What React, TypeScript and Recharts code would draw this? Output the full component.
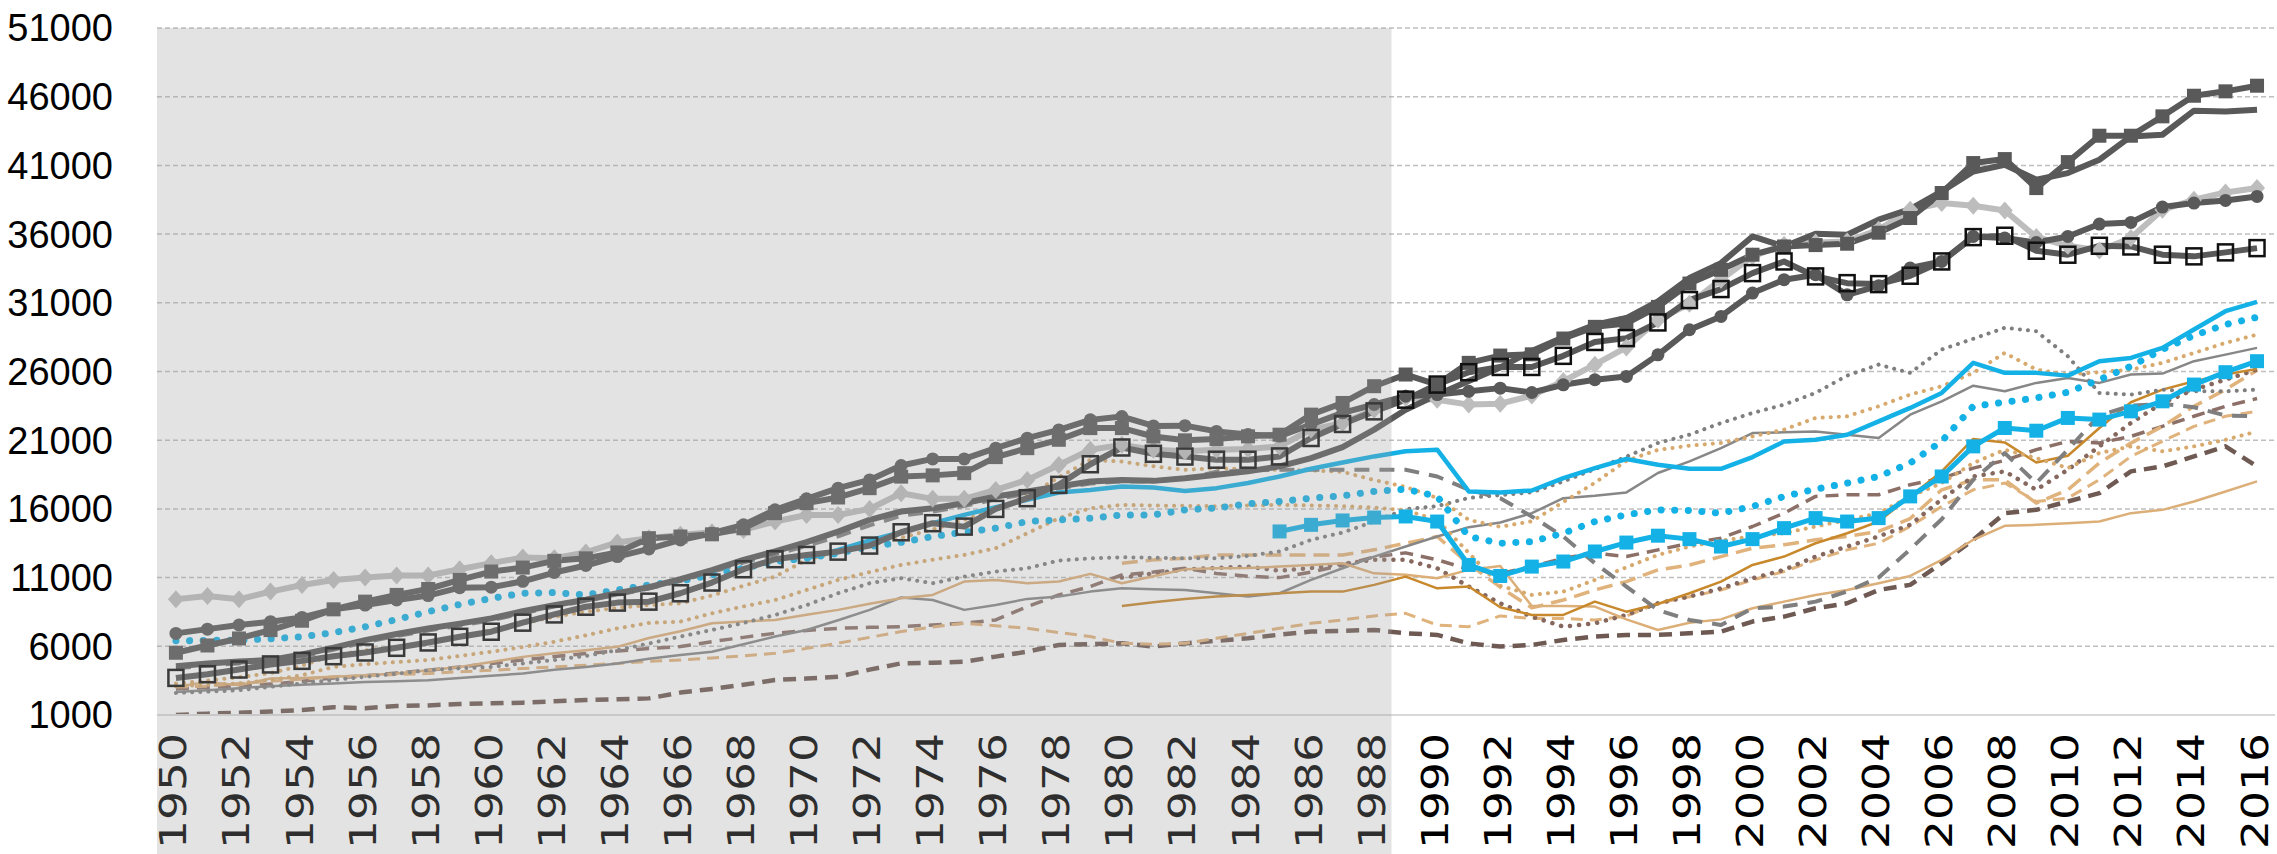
import React from 'react';
import { LineChart, Line, XAxis, YAxis, CartesianGrid, ReferenceArea } from 'recharts';

// years on the x axis
const years = Array.from({ length: 67 }, (_, i) => 1950 + i);
const yearTicks = years.filter((y) => y % 2 === 0);
const valueTicks = [1000, 6000, 11000, 16000, 21000, 26000, 31000, 36000, 41000, 46000, 51000];

// shaded period (left part of the chart)
const shadeFrom = 1949.4;
const shadeTo = 1988.55;

// series, one value per year from their first year
const sqFilled = [
  5530, 6060, 6570, 7180, 7860, 8690, 9250, 9740, 10170, 10830,
  11440, 11730, 12220, 12400, 12830, 13870, 13990, 14150, 14590, 15690,
  16420, 16830, 17510, 18350, 18440, 18600, 19770, 20420, 21030, 21880,
  21880, 21270, 20990, 21090, 21280, 21400, 22860, 23710, 24930, 25780,
  25050, 26630, 27160, 27250, 28400, 29250, 29500, 30700, 32400, 33400,
  34500, 35100, 35200, 35300, 36100, 37170, 38990, 41170, 41460, 39350,
  41240, 43160, 43160, 44570, 46070, 46390, 46800,
];
const darkPlain = [
  4550, 4750, 4900, 5000, 5400, 5900, 6450, 6900, 7300, 7650,
  8030, 8550, 9000, 9400, 9860, 10300, 10880, 11550, 12290, 12900,
  13580, 14350, 15200, 15810, 16050, 16410, 16900, 17260, 17630, 17990,
  18110, 18040, 18230, 18490, 18730, 19100, 19700, 20500, 21770, 23220,
  24300, 25300, 26300, 27500, 28500, 29400, 29890, 31100, 32800, 33890,
  35830, 35100, 36030, 35950, 37050, 37820, 39110, 40560, 41050, 39960,
  40440, 41410, 43110, 43230, 44980, 44930, 45050,
];
const lightDiamond = [
  9420, 9660, 9420, 9980, 10460, 10830, 11000, 11150, 11150, 11610,
  12050, 12460, 12410, 12830, 13560, 13870, 14110, 14300, 14470, 15080,
  15560, 15560, 16000, 17140, 16730, 16730, 17380, 18110, 19200, 20300,
  20660, 20300, 20190, 20310, 20360, 20550, 21770, 22250, 23220, 24070,
  23950, 23590, 23660, 24250, 25300, 26500, 27750, 29760, 30930, 32680,
  34380, 35220, 35390, 35470, 36320, 37770, 38260, 38060, 37720, 35780,
  35150, 34810, 35710, 37770, 38500, 39030, 39350,
];
const darkCircle = [
  6940, 7250, 7550, 7790, 8100, 8690, 9000, 9370, 9690, 10270,
  10300, 10730, 11370, 11880, 12530, 13090, 13740, 14230, 14840, 15930,
  16730, 17510, 18110, 19160, 19640, 19640, 20420, 21150, 21750, 22480,
  22720, 22040, 22060, 21640, 21410, 21300, 22140, 22990, 23600, 24200,
  24320, 24560, 24790, 24470, 25030, 25400, 25640, 27210, 29040, 30010,
  31710, 32680, 33040, 31580, 32240, 33530, 34010, 35830, 35710, 35390,
  35830, 36730, 36850, 37970, 38260, 38450, 38740,
];
const openSquare = [
  3700, 3970, 4310, 4680, 4940, 5280, 5550, 5890, 6280, 6690,
  7060, 7720, 8320, 8880, 9180, 9250, 9860, 10640, 11610, 12340,
  12650, 12890, 13330, 14300, 14960, 14710, 16000, 16780, 17750, 19250,
  20470, 20010, 19810, 19580, 19580, 19820, 21160, 22180, 23100, 23950,
  25050, 25950, 26330, 26330, 27140, 28150, 28430, 29570, 31200, 32000,
  33160, 34010, 32920, 32430, 32360, 32970, 34010, 35780, 35880, 34790,
  34500, 35150, 35100, 34500, 34380, 34670, 34980,
];
// from 1970
const blueSolid = [
  12410, 13010, 13700, 14300, 14960, 15560, 16120, 16660, 17190, 17380,
  17630, 17550, 17310, 17510, 17880, 18360, 18920, 19380, 19820, 20190,
  20310, 17270, 17200, 17340, 18240, 18970, 19630, 19210, 18920, 18920,
  19770, 20910, 21030, 21400, 22370, 23350, 24440, 26630, 25900, 25900,
  25700, 26750, 26990, 27720, 29060, 30390, 31070,
];
const blueDotted = [
  6400, 6430, 6450, 6550, 6690, 7000, 7420, 7950, 8520, 9050,
  9490, 9860, 9910, 9740, 10100, 10460, 10750, 11200, 11680, 12170,
  12410, 12770, 13260, 13570, 13990, 14300, 14590, 15080, 15200, 15320,
  15560, 15560, 15930, 16060, 16370, 16540, 16780, 16950, 17270, 17440,
  16910, 13990, 13500, 13620, 14230, 15080, 15570, 15930, 15890, 15690,
  16180, 16910, 17440, 17880, 18360, 19340, 20920, 23470, 23760, 24080,
  24490, 25410, 26380, 27600, 28620, 29420, 29950,
];
// from 1985
const blueSquare = [
  14360, 14840, 15160, 15370, 15450,
  15080, 11920, 11120, 11800, 12170, 12900, 13550, 14050, 13800, 13260,
  13800, 14600, 15330, 15080, 15330, 16910, 18360, 20550, 21890, 21690,
  22620, 22500, 23100, 23830, 25050, 25950, 26750,
];
const grayDotted = [
  2610, 2700, 2800, 3050, 3300, 3550, 3780, 4000, 4260, 4400,
  4500, 4750, 5000, 5300, 5720, 6200, 6710, 7190, 7700, 8280,
  9000, 9860, 10590, 10950, 10590, 11070, 11440, 11680, 12240, 12400,
  12480, 12450, 12410, 12410, 12580, 12900, 13750, 14280, 15080, 15980,
  16200, 16800, 17000, 17200, 18000, 18900, 19800, 20800, 21400, 22250,
  22980, 23590, 24440, 25700, 26500, 25900, 27600, 28380, 29180, 28930,
  27110, 24440, 24320, 24680, 24560, 24560, 24680,
];
const tanDottedHigh = [
  3300, 3500, 3750, 4050, 4600, 5350, 5700, 5950, 6200, 6700,
  7180, 7650, 8150, 8520, 8800, 9000, 9130, 9700, 10400, 11070,
  12290, 12900, 13380, 13900, 14500, 15200, 16000, 16900, 18300, 19570,
  19450, 19100, 18840, 18970, 18900, 18850, 18800, 18700, 18100, 17600,
  16800, 15200, 14700, 15100, 16500, 17900, 19500, 20300, 20600, 20800,
  21280, 21770, 22620, 22740, 23470, 24320, 24930, 25900, 27350, 26140,
  25780, 25950, 26140, 26630, 27350, 28080, 28690,
];
const tanDottedLow = [
  3100, 3200, 3300, 3550, 3900, 4500, 4700, 4850, 5000, 5300,
  5600, 5950, 6330, 6800, 7300, 7700, 7800, 8400, 8900, 9370,
  10100, 10830, 11400, 11920, 12300, 12650, 13140, 14230, 15320, 16050,
  16290, 16250, 16220, 16200, 16250, 16300, 16250, 16200, 16100, 15900,
  15200, 12800, 10400, 9740, 9980, 10830, 11750, 12650, 13260, 13700,
  13990, 14230, 14720, 15200, 15690, 16910, 17880, 19340, 20310, 19700,
  18970, 20070, 20550, 20190, 20550, 21030, 21640,
];
const tanDashed = [
  3040, 3100, 3290, 3450, 3600, 3780, 3850, 3950, 4020, 4150,
  4250, 4380, 4500, 4630, 4750, 4900, 5000, 5150, 5300, 5490,
  5850, 6220, 6650, 7070, 7400, 7680, 7500, 7310, 7000, 6710,
  6220, 6150, 6220, 6580, 6940, 7310, 7670, 7920, 8210, 8400,
  7550, 7430, 8210, 8030, 8030, 7910, 8200, 9130, 9610, 10100,
  10830, 11440, 12290, 13020, 13500, 14720, 16180, 17390, 17880, 16540,
  16790, 18120, 19820, 20920, 22010, 22740, 23100,
];
// from 1980
const tanDashed2 = [
  12040, 12290, 12410, 12650, 12650, 12650, 12650, 12650, 13020, 13500,
  13990, 12000, 10300, 8800, 9370, 10100, 10710, 11560, 11920, 12530,
  13140, 13390, 13750, 13990, 14360, 15300, 17390, 18120, 18120, 16420,
  17390, 19340, 20790, 22010, 23470, 24680, 26090,
];
const brownDashedDark = [
  1000, 1100, 1170, 1250, 1360, 1560, 1500, 1650, 1700, 1800,
  1850, 1900, 2000, 2090, 2150, 2210, 2630, 2900, 3200, 3550,
  3650, 3790, 4300, 4760, 4800, 4880, 5250, 5610, 6100, 6150,
  6220, 5980, 6210, 6400, 6580, 6850, 7070, 7130, 7190, 6950,
  6830, 6210, 5980, 6100, 6460, 6710, 6830, 6830, 6950, 7070,
  7800, 8160, 8770, 9130, 10100, 10470, 12050, 13750, 15690, 15930,
  16540, 17150, 18730, 19090, 19820, 20550, 19090,
];
const brownDashed = [
  2900, 3000, 3100, 3250, 3450, 3700, 3850, 4050, 4260, 4500,
  4750, 5000, 5250, 5480, 5650, 5840, 5980, 6340, 6650, 6950,
  7150, 7310, 7380, 7430, 7550, 7680, 7920, 8890, 9740, 10350,
  11190, 11400, 11680, 11300, 11100, 11000, 11400, 11900, 12500, 12800,
  12300, 11600, 11300, 11800, 12410, 12780, 12530, 13020, 13500, 13870,
  14720, 15690, 16910, 17030, 17030, 17760, 18240, 18970, 19530, 20310,
  20920, 20800, 21280, 22010, 22740, 23470, 24030,
];
// from 1980
const brownDotted = [
  11000, 11300, 11600, 11700, 11800, 11500, 11700, 12000, 12300, 12290,
  11680, 10350, 9130, 8160, 7430, 7670, 8280, 9130, 9620, 10220,
  10950, 11560, 12530, 13260, 14000, 14840, 16700, 18360, 18730, 17390,
  18850, 20550, 22250, 23710, 24680, 25410, 26140,
];
const graySolid = [
  2680, 2800, 2950, 3100, 3200, 3290, 3400, 3450, 3530, 3700,
  3850, 4020, 4300, 4500, 4750, 5100, 5370, 5610, 6150, 6710,
  7190, 7900, 8650, 9550, 9370, 8650, 9010, 9450, 9620, 9980,
  10230, 10150, 10100, 9860, 9620, 9860, 10830, 11680, 12530, 13260,
  13990, 14670, 15010, 15690, 16780, 16950, 17200, 18610, 19460, 20430,
  21520, 21570, 21640, 21400, 21160, 22860, 23830, 24970, 24560, 25170,
  25530, 25170, 25780, 25850, 26750, 27230, 27720,
];
// from 1980
const orangeSolid = [
  8940, 9200, 9450, 9620, 9740, 9860, 9980, 9980, 10470, 11070,
  10220, 10350, 8840, 8280, 8280, 9250, 8520, 9080, 9860, 10710,
  11920, 12530, 13500, 14230, 15080, 16910, 18730, 21090, 20840, 19380,
  19870, 21890, 23760, 24680, 25290, 25780, 26190,
];
const tanSolid = [
  3050, 3410, 3170, 3660, 3700, 3780, 3900, 4020, 4250, 4500,
  4850, 5230, 5500, 5720, 5960, 6600, 7100, 7680, 7800, 7920,
  8300, 8650, 9100, 9500, 9740, 10710, 10830, 10590, 10710, 11270,
  10590, 11100, 11600, 11680, 11700, 11800, 11920, 12040, 11310, 11200,
  10950, 11560, 11850, 8930, 8930, 8890, 7960, 7190, 7720, 7960,
  8770, 9250, 9740, 10100, 10590, 11120, 12290, 13750, 14770, 14840,
  14960, 15080, 15690, 15930, 16540, 17270, 18000,
];
const grayDashed = [
  4400, 4600, 4750, 4900, 5250, 5750, 6300, 6750, 7150, 7500,
  7900, 8400, 8900, 9300, 9750, 10200, 10750, 11400, 12100, 12700,
  13300, 14000, 14800, 15500, 15800, 16200, 16700, 17100, 17500, 17850,
  18000, 18000, 18200, 18700, 18800, 18850, 18850, 18850, 18850, 18850,
  18360, 17390, 16780, 15450, 13990, 12050, 10350, 8640, 7920, 7550,
  8770, 8890, 9250, 9990, 11000, 13060, 15250, 18120, 20060, 17880,
  20310, 22800, 23520, 23640, 23400, 22800, 22740,
];

const FONT = "'Liberation Sans', Arial, sans-serif";
const TICK_FONT = "'DejaVu Sans', Verdana, sans-serif";
const DARK = '#595959';
const BLUE = '#14b1e6';

type Marker = 'square' | 'open' | 'circle' | 'diamond' | null;

const makeDot = (kind: Marker, color: string) => (props: any) => {
  const { cx, cy, index } = props;
  if (cx == null || cy == null || !kind) return <g key={index} />;
  if (kind === 'square') {
    return <rect key={index} x={cx - 7} y={cy - 7} width={14} height={14} fill={color} />;
  }
  if (kind === 'open') {
    return <rect key={index} x={cx - 7.5} y={cy - 8} width={15} height={16} fill="none" stroke="#111" strokeWidth={2.5} />;
  }
  if (kind === 'circle') {
    return <circle key={index} cx={cx} cy={cy} r={6.5} fill={color} />;
  }
  return <path key={index} d={`M${cx},${cy - 9} L${cx + 8},${cy} L${cx},${cy + 9} L${cx - 8},${cy} Z`} fill={color} />;
};

// drawing order: first is at the bottom
const series = [
  { key: 'brownDashedDark', values: brownDashedDark, start: 1950, color: '#6e5a53', width: 4.5, dash: '13 8', cap: 'butt', marker: null },
  { key: 'brownDashed', values: brownDashed, start: 1950, color: '#8c7068', width: 3.5, dash: '13 8', cap: 'butt', marker: null },
  { key: 'tanDashed', values: tanDashed, start: 1950, color: '#e0b27c', width: 3, dash: '12 7', cap: 'butt', marker: null },
  { key: 'tanDashed2', values: tanDashed2, start: 1980, color: '#e0b27c', width: 3.5, dash: '16 8', cap: 'butt', marker: null },
  { key: 'brownDotted', values: brownDotted, start: 1980, color: '#86685e', width: 4.5, dash: '0.1 9', cap: 'round', marker: null },
  { key: 'graySolid', values: graySolid, start: 1950, color: '#878787', width: 2.5, dash: undefined, cap: 'butt', marker: null },
  { key: 'tanSolid', values: tanSolid, start: 1950, color: '#dcae78', width: 2.5, dash: undefined, cap: 'butt', marker: null },
  { key: 'orangeSolid', values: orangeSolid, start: 1980, color: '#c8882c', width: 2.5, dash: undefined, cap: 'butt', marker: null },
  { key: 'grayDotted', values: grayDotted, start: 1950, color: '#7f7f7f', width: 4, dash: '0.1 8', cap: 'round', marker: null },
  { key: 'tanDottedLow', values: tanDottedLow, start: 1950, color: '#d8a96c', width: 4, dash: '0.1 8', cap: 'round', marker: null },
  { key: 'tanDottedHigh', values: tanDottedHigh, start: 1950, color: '#d8a96c', width: 4, dash: '0.1 8', cap: 'round', marker: null },
  { key: 'grayDashed', values: grayDashed, start: 1950, color: '#7f7f7f', width: 4, dash: '15 10', cap: 'butt', marker: null },
  { key: 'blueDotted', values: blueDotted, start: 1950, color: BLUE, width: 7, dash: '0.1 13.5', cap: 'round', marker: null },
  { key: 'blueSolid', values: blueSolid, start: 1970, color: BLUE, width: 4.5, dash: undefined, cap: 'butt', marker: null },
  { key: 'blueSquare', values: blueSquare, start: 1985, color: BLUE, width: 5, dash: undefined, cap: 'butt', marker: 'square' },
  { key: 'lightDiamond', values: lightDiamond, start: 1950, color: '#bdbdbd', width: 6, dash: undefined, cap: 'butt', marker: 'diamond' },
  { key: 'darkPlain', values: darkPlain, start: 1950, color: DARK, width: 6, dash: undefined, cap: 'butt', marker: null },
  { key: 'darkCircle', values: darkCircle, start: 1950, color: DARK, width: 6, dash: undefined, cap: 'butt', marker: 'circle' },
  { key: 'sqFilled', values: sqFilled, start: 1950, color: DARK, width: 6, dash: undefined, cap: 'butt', marker: 'square' },
  { key: 'openSquare', values: openSquare, start: 1950, color: DARK, width: 6, dash: undefined, cap: 'butt', marker: 'open' },
] as const;

const data = years.map((year) => {
  const row: Record<string, number | null> = { year };
  series.forEach((s) => {
    const i = year - s.start;
    row[s.key] = i >= 0 && i < s.values.length ? s.values[i] : null;
  });
  return row;
});

const YearTick = (props: any) => {
  const { x, y, payload } = props;
  return (
    <g transform={`translate(${x},${y})`}>
      <text
        transform="rotate(-90)"
        x={-18}
        y={-2}
        dominantBaseline="central"
        textAnchor="end"
        fill="#000"
        fontSize={37}
        fontFamily={TICK_FONT}
        textLength={116}
        lengthAdjust="spacingAndGlyphs"
      >
        {payload.value}
      </text>
    </g>
  );
};

export default function App() {
  return (
    <div style={{ position: 'absolute', left: 0, top: 0, background: '#fff' }}>
      <LineChart width={2277} height={854} data={data} margin={{ top: 28, right: 2, bottom: 0, left: 0 }}>
        <CartesianGrid vertical={false} stroke="#bfbfbf" strokeDasharray="5 3" strokeWidth={1.5} />
        <XAxis
          dataKey="year"
          type="number"
          domain={[shadeFrom, 2016.57]}
          ticks={yearTicks}
          interval={0}
          allowDataOverflow
          height={139}
          tickLine={false}
          tickSize={0}
          tickMargin={0}
          axisLine={{ stroke: '#d9d9d9', strokeWidth: 2 }}
          tick={<YearTick />}
        />
        <YAxis
          domain={[1000, 51000]}
          ticks={valueTicks}
          interval={0}
          allowDataOverflow
          width={157}
          axisLine={false}
          tickLine={false}
          tickSize={0}
          tickMargin={44}
          tick={{ fill: '#000', fontSize: 38, fontFamily: FONT }}
        />
        {series.map((s) => (
          <Line
            key={s.key}
            type="linear"
            dataKey={s.key}
            stroke={s.color}
            strokeWidth={s.width}
            strokeDasharray={s.dash}
            strokeLinecap={s.cap as any}
            strokeLinejoin="round"
            dot={s.marker ? makeDot(s.marker as Marker, s.color) : false}
            activeDot={false}
            connectNulls={false}
            isAnimationActive={false}
          />
        ))}
        <ReferenceArea
          x1={shadeFrom}
          x2={shadeTo}
          y1={-9300}
          y2={51000}
          ifOverflow="visible"
          fill="#9e9e9e"
          fillOpacity={0.29}
          stroke="none"
          {...({ zIndex: 3000 } as any)}
        />
      </LineChart>
    </div>
  );
}
